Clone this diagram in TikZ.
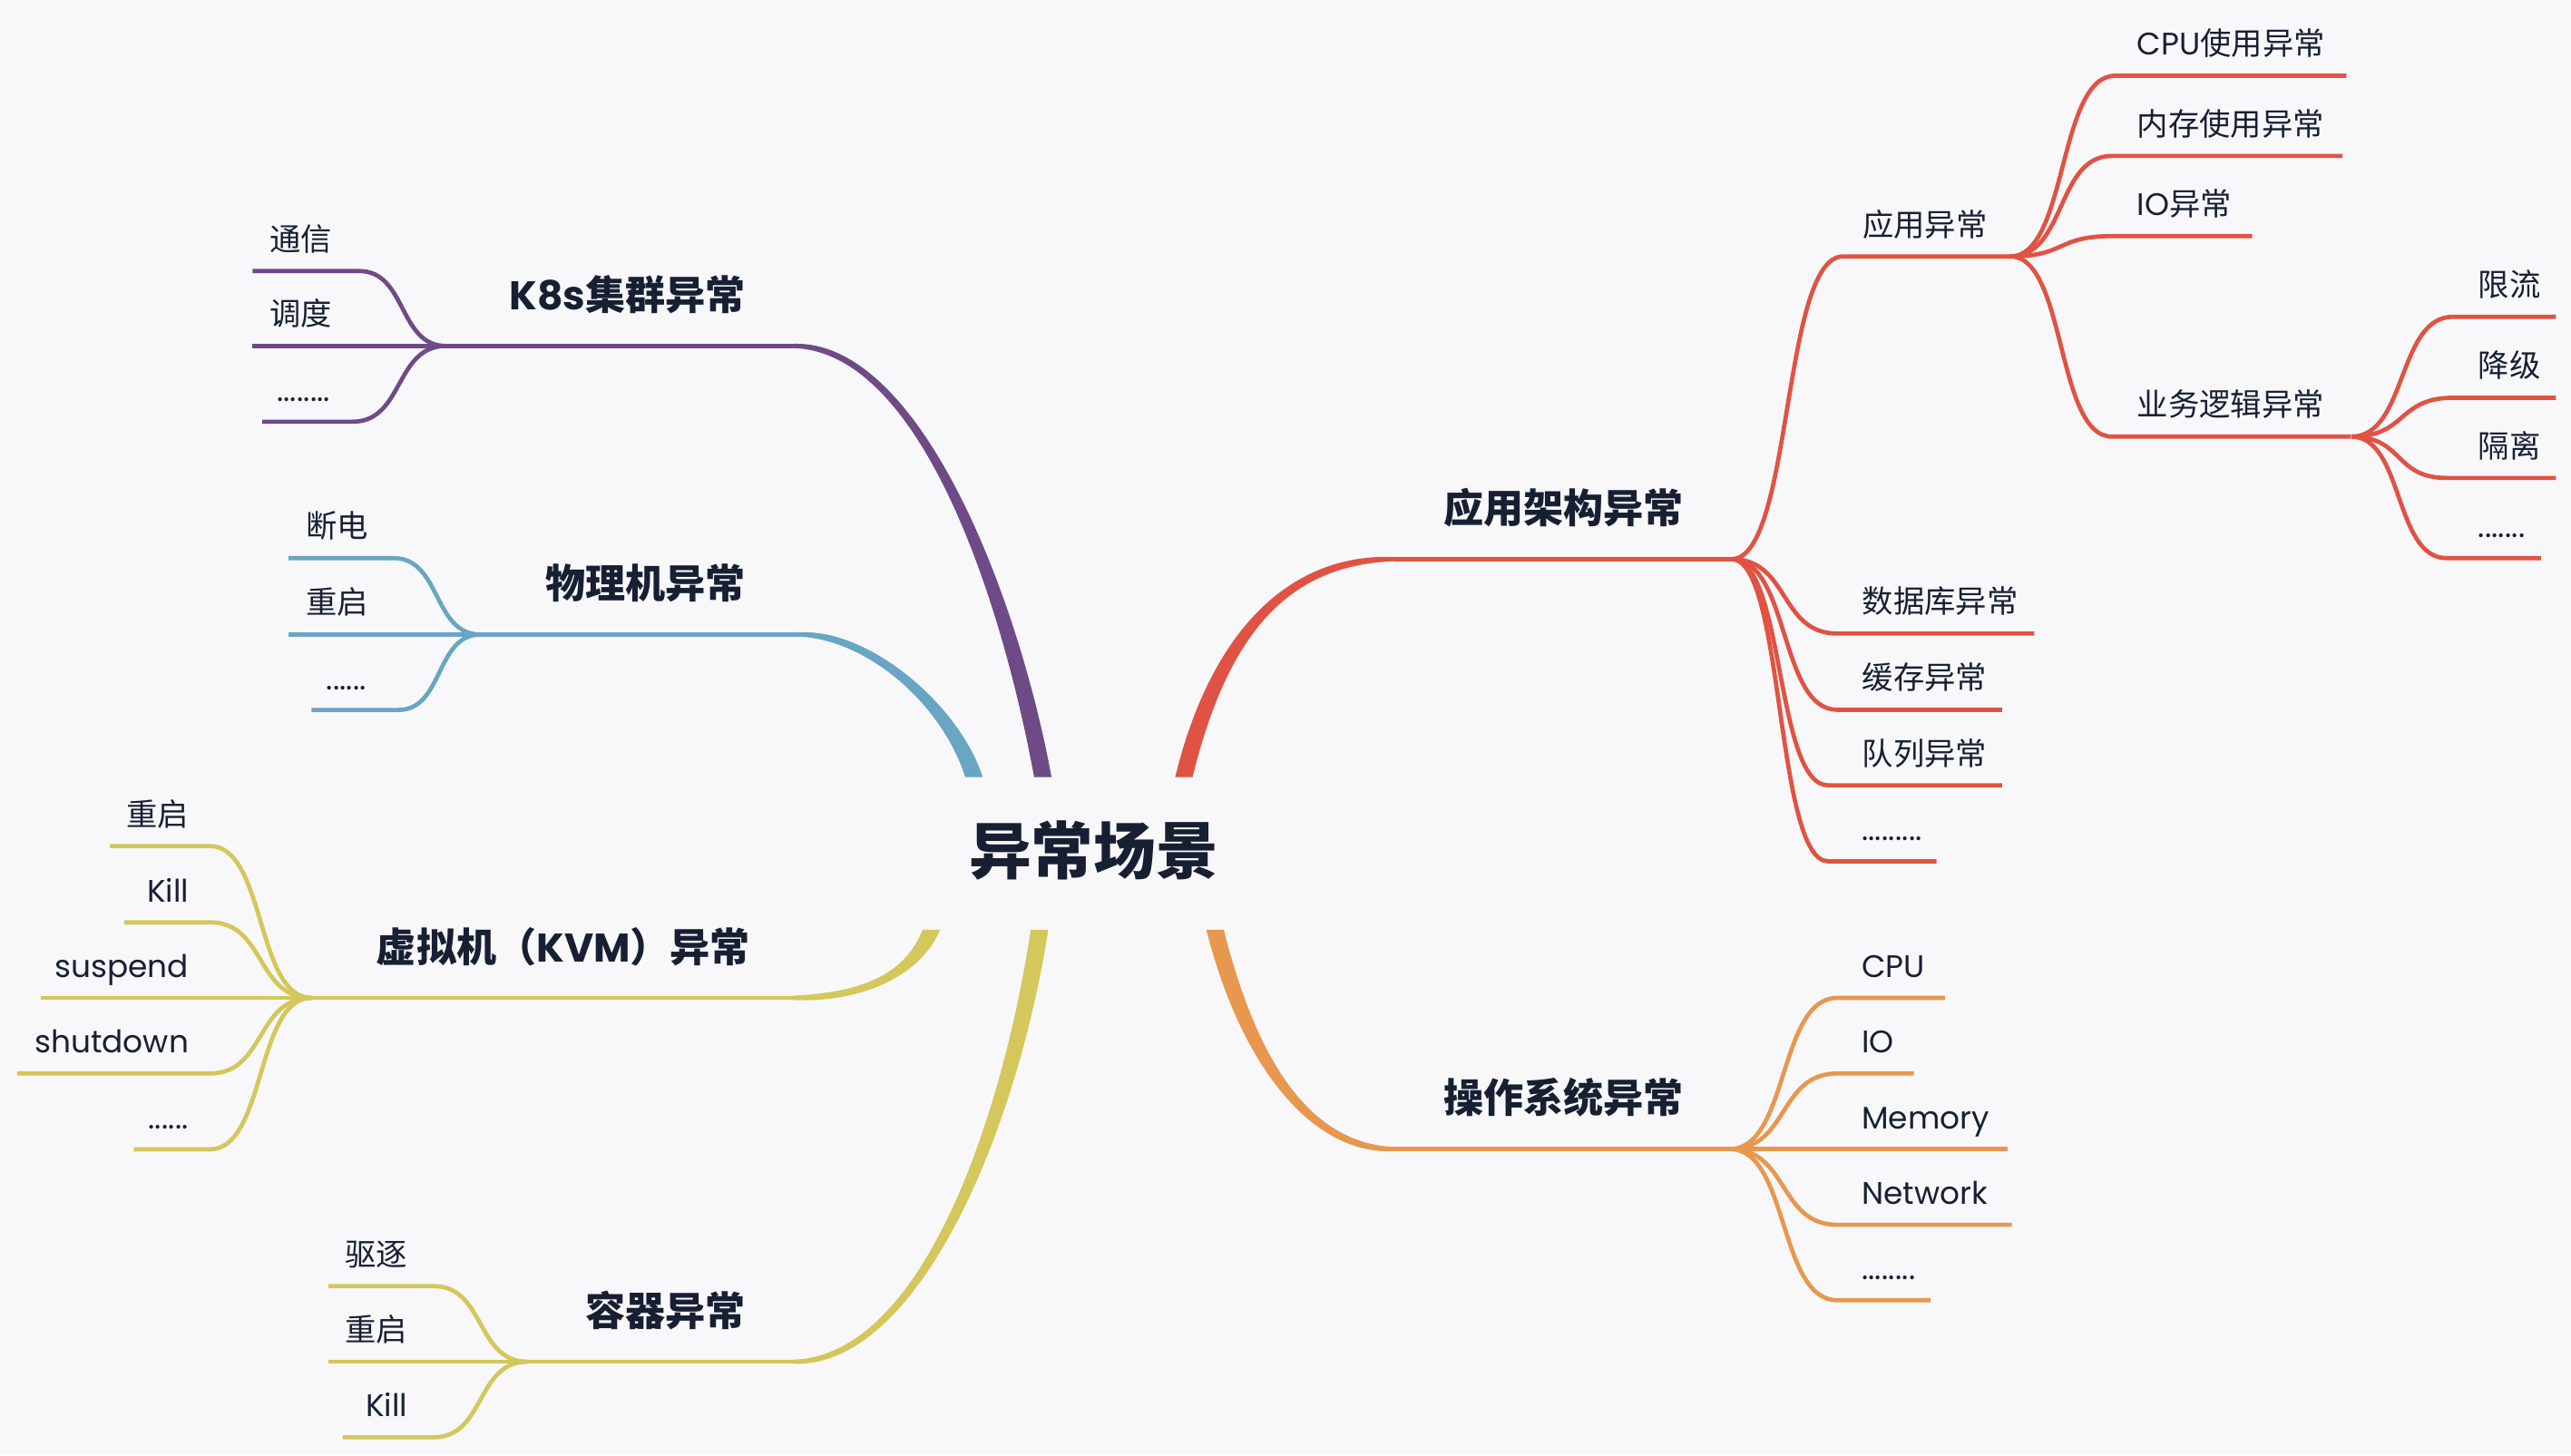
\documentclass[tikz,border=0pt]{standalone}
\usepackage{fontspec}
\setmainfont{Noto Sans CJK SC}
\newfontfamily\lat{Poppins}
\usetikzlibrary{calc}
\definecolor{bg}{HTML}{F8F8FA}
\definecolor{ink}{HTML}{172033}
\definecolor{cpurple}{HTML}{6E4B87}
\definecolor{cblue}{HTML}{68A6C3}
\definecolor{cyellow}{HTML}{D4C75B}
\definecolor{cred}{HTML}{E05343}
\definecolor{corange}{HTML}{E8974F}
\tikzset{
  kidline/.style={line width=1.3pt, line cap=butt},
  kidlbl/.style={inner sep=0pt, font=\fontsize{9.5}{11}\selectfont, text=ink},
  mainlbl/.style={inner sep=0pt, font=\fontsize{12.2}{14}\selectfont\bfseries, text=ink},
  rootlbl/.style={inner sep=0pt, font=\fontsize{19}{22}\selectfont\bfseries, text=ink},
}
% one narrow dot
\newcommand\dd{\makebox[2.05pt][l]{\lat .}}
% left child: name, colour, fork, x near fork, x far end, y, label right x, text
\newcommand\lkid[8]{%
  \coordinate (#1-a) at (#4,#6);
  \coordinate (#1-b) at (#5,#6);
  \draw[kidline,#2] (#3) .. controls ($(#3)!0.55!(#3 -| #1-a)$) and ($(#1-a)!0.55!(#1-a -| #3)$) .. (#1-a) -- (#1-b);
  \node[kidlbl,anchor=base east] (#1) at (#7,#6-12.5) {#8};
}
% right child: name, colour, fork, x near fork, x far end, y, label left x, text
\newcommand\rkid[8]{%
  \coordinate (#1-a) at (#4,#6);
  \coordinate (#1-b) at (#5,#6);
  \draw[kidline,#2] (#3) .. controls ($(#3)!0.55!(#3 -| #1-a)$) and ($(#1-a)!0.55!(#1-a -| #3)$) .. (#1-a) -- (#1-b);
  \node[kidlbl,anchor=base west] (#1) at (#7,#6-12.5) {#8};
}
% tapered trunk: colour, start, c1, c2, end, start offset, c2 offset, end offset
\newcommand\trunk[8]{%
  \fill[#1] ($(#2)+(#6)$) .. controls ($(#3)+(#6)$) and ($(#4)+(#7)$) .. ($(#5)+(#8)$)
    -- ($(#5)-(#8)$) .. controls ($(#4)-(#7)$) and ($(#3)-(#6)$) .. ($(#2)-(#6)$) -- cycle;
}
\begin{document}
\begin{tikzpicture}[x=0.5pt,y=-0.5pt]
\fill[bg] (0,0) rectangle (1568,887.5);
\useasboundingbox (0,0) rectangle (1568,887.5);

\node[rootlbl,anchor=base] (root) at (667,533) {异常场景};

% ---------- K8s ----------
\coordinate (sK) at (636,474);
\coordinate (eK) at (484,211);
\coordinate (fK) at (272,211);
\trunk{cpurple}{sK}{615,360}{560,211}{eK}{-5.3,0}{0,3.6}{0,1.3}
\draw[kidline,cpurple] (eK) -- (fK);
\node[mainlbl,anchor=base east] (mK) at (455,189) {{\lat K8s}集群异常};
\lkid{k1}{cpurple}{fK}{219}{154}{165.3}{203}{通信}
\lkid{k2}{cpurple}{fK}{272}{154}{211}{203}{调度}
\lkid{k3}{cpurple}{fK}{215}{160}{257.2}{202}{\dd\dd\dd\dd\dd\dd\dd\dd}

% ---------- physical ----------
\coordinate (sP) at (594,474);
\coordinate (eP) at (488,387);
\coordinate (fP) at (293,387);
\trunk{cblue}{sP}{580,430}{530,387}{eP}{-5.3,0}{0,3.6}{0,1.3}
\draw[kidline,cblue] (eP) -- (fP);
\node[mainlbl,anchor=base east] (mP) at (455,365) {物理机异常};
\lkid{p1}{cblue}{fP}{240}{176}{340.4}{225}{断电}
\lkid{p2}{cblue}{fP}{293}{176}{387}{225}{重启}
\lkid{p3}{cblue}{fP}{243}{190}{433}{224}{\dd\dd\dd\dd\dd\dd}

% ---------- KVM ----------
\coordinate (sV) at (568,567);
\coordinate (eV) at (483,608.6);
\coordinate (fV) at (190,608.6);
\trunk{cyellow}{sV}{558,592}{530,608.6}{eV}{5.3,0}{0,3.4}{0,1.3}
\draw[kidline,cyellow] (eV) -- (fV);
\node[mainlbl,anchor=base east] (mV) at (458,586.6) {虚拟机（{\lat KVM}）异常};
\lkid{v1}{cyellow}{fV}{128}{67}{516}{115.5}{重启}
\lkid{v2}{cyellow}{fV}{128}{75.7}{562.5}{115.5}{\lat Kill}
\lkid{v3}{cyellow}{fV}{190}{25}{608.6}{115.5}{\lat suspend}
\lkid{v4}{cyellow}{fV}{128}{10.5}{654.7}{115.5}{\lat shutdown}
\lkid{v5}{cyellow}{fV}{128}{81.5}{701}{115.5}{\dd\dd\dd\dd\dd\dd}

% ---------- container ----------
\coordinate (sC) at (634,567);
\coordinate (eC) at (484,830.5);
\coordinate (fC) at (321.6,830.5);
\trunk{cyellow}{sC}{615,690}{560,830.5}{eC}{5.3,0}{0,3.6}{0,1.3}
\draw[kidline,cyellow] (eC) -- (fC);
\node[mainlbl,anchor=base east] (mC) at (455,808.5) {容器异常};
\lkid{c1}{cyellow}{fC}{264.5}{200.3}{784.4}{249}{驱逐}
\lkid{c2}{cyellow}{fC}{321.6}{200.3}{830.5}{249}{重启}
\lkid{c3}{cyellow}{fC}{264.5}{209}{876.6}{249}{\lat Kill}

% ---------- application architecture ----------
\coordinate (sA) at (722,474);
\coordinate (eA) at (850,341);
\coordinate (fA) at (1056,341);
\trunk{cred}{sA}{745,380}{790,341}{eA}{-5.3,0}{0,-3.6}{0,-1.3}
\draw[kidline,cred] (eA) -- (fA);
\node[mainlbl,anchor=base west] (mA) at (880,319) {应用架构异常};
\rkid{a1}{cred}{fA}{1124}{1226}{156.4}{1135.5}{应用异常}
\rkid{a2}{cred}{fA}{1120.5}{1240.7}{386.4}{1135.4}{数据库异常}
\rkid{a3}{cred}{fA}{1120.5}{1221}{432.9}{1135.4}{缓存异常}
\rkid{a4}{cred}{fA}{1115}{1221}{479}{1135.4}{队列异常}
\rkid{a5}{cred}{fA}{1115}{1181}{525.3}{1135}{\dd\dd\dd\dd\dd\dd\dd\dd\dd}
\coordinate (fA1) at (1226,156.4);
\rkid{b1}{cred}{fA1}{1290}{1431}{46.2}{1303}{{\lat CPU}使用异常}
\rkid{b2}{cred}{fA1}{1288}{1428.6}{95.1}{1303}{内存使用异常}
\rkid{b3}{cred}{fA1}{1288}{1373.6}{144}{1303}{{\lat IO}异常}
\rkid{b4}{cred}{fA1}{1288}{1433.6}{266.3}{1303}{业务逻辑异常}
\coordinate (fB4) at (1434,266.3);
\rkid{d1}{cred}{fB4}{1496}{1558.8}{193.2}{1511}{限流}
\rkid{d2}{cred}{fB4}{1496}{1558.8}{242.6}{1511}{降级}
\rkid{d3}{cred}{fB4}{1492}{1558.8}{291.5}{1511}{隔离}
\rkid{d4}{cred}{fB4}{1492}{1549.6}{340.4}{1511}{\dd\dd\dd\dd\dd\dd\dd}

% ---------- operating system ----------
\coordinate (sO) at (741,567);
\coordinate (eO) at (850,700.8);
\coordinate (fO) at (1055,700.8);
\trunk{corange}{sO}{762,650}{800,700.8}{eO}{5.3,0}{0,-3.6}{0,-1.3}
\draw[kidline,corange] (eO) -- (fO);
\node[mainlbl,anchor=base west] (mO) at (880,678.8) {操作系统异常};
\rkid{o1}{corange}{fO}{1120.5}{1186.3}{608.6}{1135}{\lat CPU}
\rkid{o2}{corange}{fO}{1120.5}{1167.2}{654.7}{1135}{\lat IO}
\rkid{o3}{corange}{fO}{1055}{1224.3}{700.8}{1135}{\lat Memory}
\rkid{o4}{corange}{fO}{1120.5}{1227}{747}{1135}{\lat Network}
\rkid{o5}{corange}{fO}{1120.5}{1177.5}{793}{1135}{\dd\dd\dd\dd\dd\dd\dd\dd}
\end{tikzpicture}
\end{document}
